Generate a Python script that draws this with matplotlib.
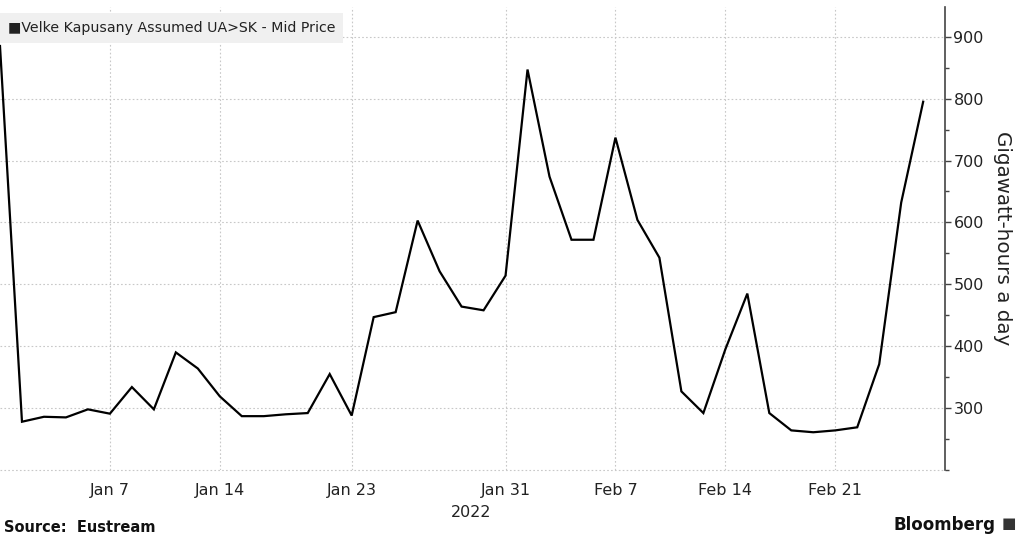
import numpy as np
import matplotlib
matplotlib.use("Agg")
import matplotlib.pyplot as plt
from matplotlib.ticker import MultipleLocator

# daily flows (GWh/d), one value per published day
flow = [885, 278, 286, 285, 298, 291, 334, 298, 390, 364,
        319, 287, 287, 290, 292, 355, 288, 447, 455, 603,
        521, 464, 458, 514, 847, 674, 572, 572, 737, 604,
        543, 327, 292, 395, 485, 292, 264, 261, 264, 269,
        371, 632, 795]

tick_pos = [5, 10, 16, 23, 28, 33, 38]
tick_labels = ["Jan 7", "Jan 14", "Jan 23", "Jan 31", "Feb 7", "Feb 14", "Feb 21"]

series_name = "Velke Kapusany Assumed UA>SK - Mid Price"
y_label = "Gigawatt-hours a day"

plt.rcParams['font.family'] = ['DejaVu Sans']

fig = plt.figure(figsize=(10.24, 5.39), dpi=100)
ax = fig.add_axes([0.0, 0.128, 0.923, 0.859])

x = np.arange(len(flow))
ax.plot(x, flow, color="black", lw=1.6, solid_joinstyle="miter", zorder=3)

ax.set_xlim(0, 43)
ax.set_ylim(200, 948)

# y axis on the right
ax.yaxis.tick_right()
ax.yaxis.set_label_position("right")
ax.set_yticks(range(300, 901, 100))
ax.yaxis.set_minor_locator(MultipleLocator(50))
ax.tick_params(axis="y", which="major", direction="out", length=4, width=1,
               color="#444444", labelsize=11.5, labelcolor="#222222", pad=2)
ax.tick_params(axis="y", which="minor", direction="out", length=3, width=1,
               color="#444444")
ax.set_ylabel(y_label, rotation=-90, labelpad=20, fontsize=14.3, color="#222222")

ax.set_xticks(tick_pos)
ax.set_xticklabels(tick_labels)
ax.tick_params(axis="x", length=0, labelsize=11.5, labelcolor="#222222", pad=9)

for s in ["top", "left", "bottom"]:
    ax.spines[s].set_visible(False)
ax.spines["right"].set_color("#444444")
ax.spines["right"].set_linewidth(1.2)

ax.grid(True, which="major", color="#c8c8c8", linestyle=(0, (1.5, 2)), lw=0.8)
ax.axhline(200, color="#c8c8c8", linestyle=(0, (1.5, 2)), lw=0.8, clip_on=False)

ax.text(21.45, -0.075, "2022", transform=ax.get_xaxis_transform(),
        ha="center", va="top", fontsize=11.5, color="#222222")

# legend box in top-left
ax.text(0.008, 0.955, "\u25a0" + series_name, transform=ax.transAxes,
        ha="left", va="center", fontsize=10.2, color="#222222",
        bbox=dict(boxstyle="square,pad=0.55", fc="#f0f0f0", ec="none"),
        zorder=5)

fig.text(0.004, 0.008, "Source:  Eustream", fontsize=10.5, fontweight="bold",
         color="#111111", ha="left", va="bottom")
fig.text(0.972, 0.01, "Bloomberg", fontsize=12, fontweight="bold",
         color="#111111", ha="right", va="bottom")
fig.text(0.992, 0.014, "\u25a0", fontsize=11, color="#333333",
         ha="right", va="bottom")

fig.savefig("out.png", dpi=100)
